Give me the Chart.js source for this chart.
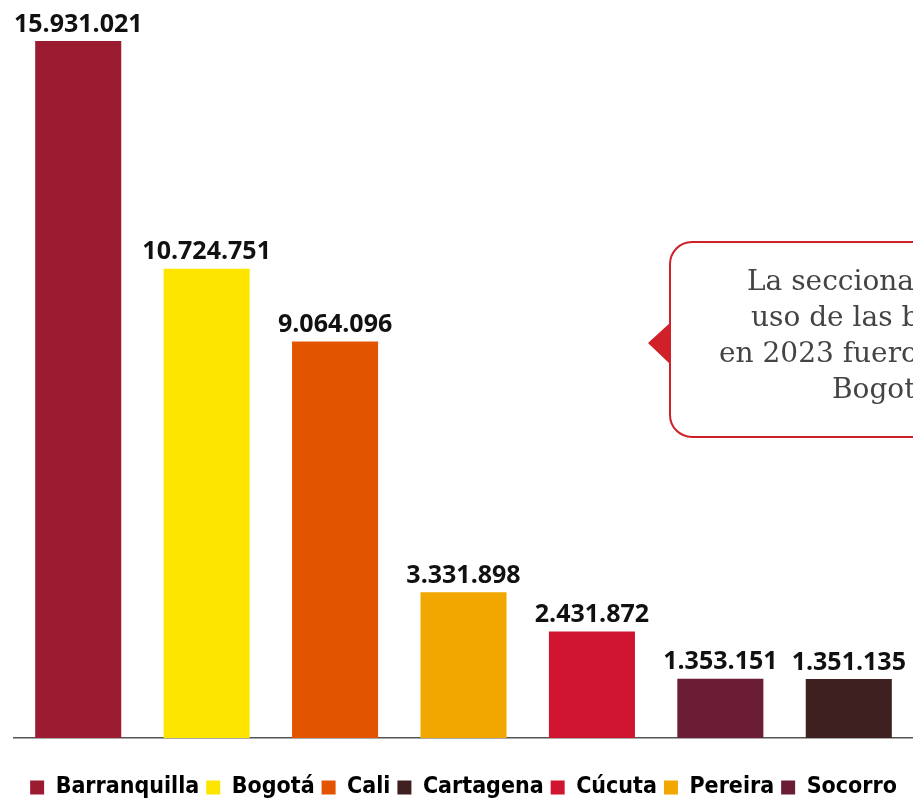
<!DOCTYPE html>
<html>
<head>
<meta charset="utf-8">
<script src="https://cdn.jsdelivr.net/npm/chart.js@4.4.1/dist/chart.umd.min.js"></script>
<style>
  html, body { margin: 0; padding: 0; background: #fff; }
  #wrap { width: 913px; height: 799px; }
</style>
</head>
<body>
<div id="wrap"><canvas id="barras" width="913" height="799"></canvas></div>
<script>
// datos en el orden de las barras
const ciudades = ["Barranquilla", "Bogotá", "Cali", "Pereira", "Cúcuta", "Socorro", "Cartagena"];
const usos = [15931021, 10724751, 9064096, 3331898, 2431872, 1353151, 1351135];
const colores = ["#9B1B30", "#FDE500", "#E35400", "#F2A700", "#CF1530", "#6A1D35", "#3E2021"];
// la leyenda va en orden alfabético
const ordenLeyenda = ["Barranquilla", "Bogotá", "Cali", "Cartagena", "Cúcuta", "Pereira", "Socorro"];
const notaLineas = ["La seccional", "uso de las bicicletas", "en 2023 fueron", "Bogotá"];
const notaX = [747, 751, 719, 832];

const fmt = n => n.toLocaleString("de-DE");

// etiquetas sobre cada barra
const etiquetas = {
  id: "etiquetas",
  afterDatasetsDraw(chart) {
    const { ctx } = chart;
    const meta = chart.getDatasetMeta(0);
    ctx.save();
    ctx.font = "bold 25px 'Open Sans'";
    ctx.fillStyle = "#111";
    ctx.textAlign = "center";
    ctx.textBaseline = "bottom";
    meta.data.forEach((bar, i) => {
      ctx.fillText(fmt(usos[i]), bar.x, bar.y - 4);
    });
    ctx.restore();
  }
};

// globo de texto a la derecha
const nota = {
  id: "nota",
  afterDraw(chart) {
    const { ctx } = chart;
    const x = 670, y = 242, w = 300, h = 195, r = 22;
    ctx.save();
    ctx.beginPath();
    ctx.roundRect(x, y, w, h, r);
    ctx.fillStyle = "#fff";
    ctx.fill();
    ctx.lineWidth = 2;
    ctx.strokeStyle = "#D0202A";
    ctx.stroke();
    // punta
    ctx.beginPath();
    ctx.moveTo(x + 1, 322);
    ctx.lineTo(648, 343);
    ctx.lineTo(x + 1, 365);
    ctx.closePath();
    ctx.fillStyle = "#D0202A";
    ctx.fill();
    ctx.font = "28px 'DejaVu Serif'";
    ctx.fillStyle = "#444";
    ctx.textBaseline = "alphabetic";
    notaLineas.forEach((t, i) => ctx.fillText(t, notaX[i], 290 + i * 36));
    ctx.restore();
  }
};

new Chart(document.getElementById("barras"), {
  type: "bar",
  data: {
    labels: ciudades,
    datasets: [{
      data: usos,
      backgroundColor: colores,
      borderWidth: 0,
      barPercentage: 0.67,
      categoryPercentage: 1
    }]
  },
  options: {
    responsive: false,
    animation: false,
    layout: { padding: { left: 14, right: 0, top: 38, bottom: -10 } },
    scales: {
      x: {
        grid: { display: false },
        ticks: { display: false },
        border: { display: true, color: "#555", width: 1.5 },
        afterFit(s) { s.height = 31; }
      },
      y: {
        display: false,
        min: 0,
        max: 16000000
      }
    },
    plugins: {
      tooltip: { enabled: false },
      legend: {
        position: "bottom",
        labels: {
          boxWidth: 14,
          boxHeight: 14,
          padding: 7,
          color: "#111",
          font: { family: "'DejaVu Sans Condensed', 'Liberation Sans Narrow', sans-serif", size: 23, weight: "bold", lineHeight: 1 },
          generateLabels() {
            return ordenLeyenda.map(c => {
              const i = ciudades.indexOf(c);
              return { text: c, fillStyle: colores[i], strokeStyle: colores[i], lineWidth: 0, hidden: false, index: i };
            });
          }
        }
      }
    }
  },
  plugins: [etiquetas, nota]
});
</script>
</body>
</html>
